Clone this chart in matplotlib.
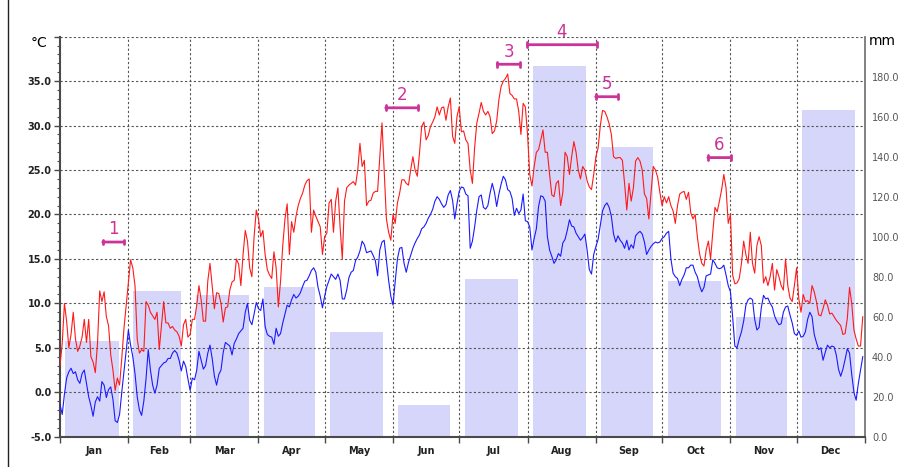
import numpy as np
import matplotlib

matplotlib.use("Agg")
import matplotlib.pyplot as plt
from matplotlib.ticker import FixedLocator, MultipleLocator, FuncFormatter

# ---- data -------------------------------------------------------------------
months = ["Jan", "Feb", "Mar", "Apr", "May", "Jun",
          "Jul", "Aug", "Sep", "Oct", "Nov", "Dec"]
month_days = [31, 28, 31, 30, 31, 30, 31, 31, 30, 31, 30, 31]
precip_mm = [48, 73, 71, 75, 52.5, 15.6, 79, 185.5, 145, 78, 60, 163.5]

tmax = [
    # Jan
    3.0, 5.5, 10.0, 8.0, 5.0, 6.5, 9.0, 6.0, 4.6, 5.2, 6.2, 8.2, 5.6, 8.2, 4.0, 3.4,
    2.2, 5.5, 11.4, 10.2, 11.3, 8.5, 7.5, 4.2, 2.5, 0.2, 1.6, 0.8, 3.8, 7.2, 9.8,
    # Feb
    12.5, 14.9, 14.0, 12.0, 6.0, 4.4, 4.8, 4.6, 10.2, 9.8, 9.0, 8.6, 8.2, 9.0, 4.8,
    7.5, 10.2, 7.8, 7.8, 7.2, 7.4, 7.0, 6.8, 6.3, 5.2, 7.6, 8.2, 6.2,
    # Mar
    6.5, 8.2, 8.2, 9.8, 12.0, 10.4, 8.0, 8.0, 12.5, 14.5, 12.0, 9.4, 11.2, 11.1, 10.0,
    7.9, 9.5, 9.6, 11.5, 12.4, 12.6, 15.0, 14.4, 12.0, 15.5, 18.2, 17.0, 14.0, 13.0,
    17.5, 20.5,
    # Apr
    19.5, 17.5, 18.2, 15.5, 13.8, 13.2, 12.8, 15.8, 14.0, 9.6, 12.5, 16.5, 19.5, 21.2,
    15.5, 19.2, 18.0, 19.8, 21.0, 21.8, 22.4, 23.3, 23.8, 24.0, 18.0, 20.5, 19.8, 19.2,
    18.6, 15.5,
    # May
    17.5, 17.9, 21.3, 21.7, 18.0, 21.5, 23.0, 18.6, 15.0, 21.5, 23.0, 23.3, 23.5, 23.7,
    23.3, 25.0, 28.0, 25.4, 26.1, 21.0, 21.5, 21.6, 22.4, 22.6, 22.6, 26.5, 30.3, 25.0,
    19.5, 18.0, 17.1,
    # Jun
    20.0, 19.0, 21.3, 22.4, 23.9, 23.9, 23.5, 23.3, 25.0, 26.5, 25.0, 24.3, 26.9, 29.9,
    30.4, 28.4, 28.9, 29.9, 30.4, 31.0, 32.1, 31.2, 32.0, 32.1, 30.6, 32.1, 33.1, 28.8,
    28.0, 31.0,
    # Jul
    32.1, 29.3, 29.4, 28.4, 28.0, 25.0, 23.5, 27.5, 30.3, 31.4, 32.6, 31.6, 31.2, 31.6,
    31.0, 29.1, 29.4, 30.5, 32.9, 34.4, 35.0, 35.3, 35.8, 33.6, 33.4, 33.0, 33.0, 31.6,
    29.0, 32.5, 32.1,
    # Aug
    29.0, 24.5, 23.2, 25.4, 27.0, 27.3, 28.4, 29.5, 27.0, 27.0, 24.5, 22.2, 22.0, 23.5,
    23.8, 21.0, 22.5, 27.0, 26.5, 24.5, 26.5, 28.2, 27.0, 25.0, 24.0, 25.4, 25.0, 23.8,
    23.1, 22.8, 24.5,
    # Sep
    26.5, 27.5, 30.0, 31.7, 31.6, 31.0, 30.2, 29.0, 26.5, 26.3, 26.4, 26.4, 26.1, 23.5,
    20.5, 23.5, 21.5, 23.0, 26.0, 26.4, 26.0, 25.0, 22.3, 21.8, 19.5, 22.5, 25.4, 25.0,
    24.2, 22.5,
    # Oct
    21.0, 22.0, 21.3, 22.0, 21.0, 20.4, 19.0, 21.0, 22.3, 22.5, 22.6, 21.7, 22.5, 20.2,
    19.5, 20.0, 17.5, 15.6, 14.5, 14.2, 16.0, 17.0, 15.0, 18.0, 20.8, 20.3, 21.5, 22.8,
    24.5, 23.0, 19.0,
    # Nov
    20.0, 13.2, 12.2, 12.3, 12.8, 14.5, 17.0, 15.5, 14.5, 18.0, 14.5, 13.4, 16.5, 17.5,
    16.5, 12.3, 13.0, 12.0, 13.0, 14.5, 11.5, 13.8, 13.0, 12.0, 11.5, 15.0, 12.0, 10.6,
    10.2, 12.0,
    # Dec
    14.0, 10.5, 9.0, 11.0, 10.2, 10.3, 10.0, 12.0, 11.3, 10.2, 8.7, 8.6, 9.4, 10.4, 9.8,
    8.8, 8.9, 8.5, 8.1, 7.8, 7.5, 6.5, 6.6, 8.3, 11.8, 10.0, 7.0, 6.0, 5.2, 5.2, 8.5,
]

tmin = [
    # Jan
    -1.4, -2.5, -0.2, 1.6, 2.3, 2.7, 2.1, 2.3, 1.4, 1.0, 2.1, 2.5, 1.0, -0.5, -1.5,
    -2.7, -1.1, -0.5, -1.0, 1.2, 0.8, -0.6, 0.3, 0.6, -0.8, -3.2, -3.4, -2.5, 0.0, 2.3,
    4.5,
    # Feb
    7.0, 5.3, 4.0, 2.1, -0.5, -2.0, -2.6, -1.0, 1.5, 4.8, 2.5, 0.8, -0.1, 0.8, 2.7, 3.0,
    3.3, 3.4, 3.8, 3.8, 4.4, 4.7, 4.4, 3.6, 2.4, 3.5, 2.9, 1.5,
    # Mar
    0.2, 1.6, 1.4, 2.5, 4.6, 3.6, 2.6, 3.0, 4.4, 5.3, 3.8, 1.8, 0.8, 2.0, 2.5, 4.5, 5.6,
    5.4, 5.2, 4.2, 5.5, 6.0, 6.6, 6.9, 7.2, 9.0, 10.0, 8.1, 7.6, 8.8, 10.1,
    # Apr
    9.4, 9.2, 10.5, 7.4, 6.5, 6.3, 6.2, 5.4, 7.2, 6.3, 6.6, 7.8, 8.8, 9.8, 9.6, 10.4,
    11.0, 10.6, 10.8, 11.2, 11.9, 12.5, 12.6, 13.1, 13.7, 14.0, 13.5, 11.8, 10.8, 9.5,
    # May
    10.8, 11.9, 12.6, 13.3, 13.0, 12.7, 13.3, 12.6, 10.5, 10.5, 11.5, 12.9, 13.5, 13.7,
    14.8, 15.2, 15.9, 17.0, 16.6, 15.7, 15.8, 15.9, 15.4, 14.8, 13.1, 16.0, 16.9, 17.1,
    14.8, 12.6, 10.8,
    # Jun
    9.8, 12.5, 15.0, 16.2, 16.3, 14.5, 13.5, 14.6, 15.4, 16.2, 16.8, 17.3, 17.7, 18.4,
    18.6, 19.0, 19.6, 20.0, 20.6, 21.5, 22.0, 21.7, 21.2, 20.8, 21.1, 22.2, 22.7, 21.6,
    19.5, 21.2,
    # Jul
    22.6, 23.1, 23.0, 22.3, 22.1, 16.2, 17.0, 18.6, 20.5, 22.0, 22.2, 20.8, 20.6, 21.0,
    22.4, 23.5, 22.5, 20.9, 22.3, 23.4, 24.3, 23.9, 22.8, 22.6, 21.8, 19.9, 20.7, 20.1,
    20.5, 22.3, 19.3,
    # Aug
    19.2, 18.6, 16.0, 17.3, 18.4, 20.9, 22.1, 22.0, 21.5, 17.5, 16.0, 15.3, 14.5, 14.9,
    15.6, 15.3, 16.8, 17.2, 18.2, 19.4, 18.7, 18.6, 17.9, 17.5, 17.1, 17.4, 17.8, 16.0,
    13.8, 13.3, 15.5,
    # Sep
    16.4, 17.2, 18.8, 20.4, 21.0, 21.3, 20.8, 19.8, 17.8, 16.9, 17.6, 17.1, 16.8, 16.2,
    17.1, 16.0, 16.6, 16.2, 17.6, 17.9, 18.1, 17.8, 16.9, 15.5, 16.0, 16.4, 16.7, 16.9,
    16.8, 16.9,
    # Oct
    17.3, 17.5, 17.9, 18.1, 15.0, 13.4, 13.0, 12.8, 12.0, 12.7, 13.2, 14.0, 14.0, 14.3,
    14.3, 13.5, 13.0, 12.0, 11.3, 11.8, 13.1, 13.2, 13.3, 14.9, 14.5, 14.0, 13.9, 14.0,
    14.3, 13.2, 12.0,
    # Nov
    11.3, 8.5, 5.2, 5.0, 6.0, 6.8, 8.0, 9.8, 10.4, 10.6, 10.4, 8.2, 7.0, 7.3, 9.5, 10.9,
    10.5, 10.6, 10.0, 9.6, 8.6, 8.0, 7.6, 7.7, 9.0, 9.6, 9.7, 8.7, 7.8, 6.6,
    # Dec
    6.4, 6.9, 6.2, 6.3, 6.8, 8.2, 9.0, 8.5, 6.5, 5.6, 4.8, 5.0, 3.6, 4.5, 5.3, 5.0, 5.2,
    5.1, 4.2, 2.6, 1.8, 2.6, 3.7, 4.9, 4.4, 2.0, 0.0, -0.9, 1.0, 2.5, 4.0,
]

# marked periods: label, first day, last day (day of year, 0-based), level in degC
period_labels = ["1", "2", "3", "4", "5", "6"]
period_start = [19.4, 147.7, 198.3, 211.9, 242.9, 293.8]
period_end = [29.0, 162.5, 208.6, 243.3, 253.1, 304.3]
period_level = [16.9, 32.0, 36.9, 39.1, 33.25, 26.4]

# ---- style ------------------------------------------------------------------
RED = "#ff1a1a"
BLUE = "#1a1aff"
BAR = "#d6d6fb"
MAGENTA = "#cc3399"
GRID = "#555555"
AXIS = "#4a4a4a"

plt.rcParams.update({
    "font.family": "DejaVu Sans",
    "font.size": 7,
})

days = np.arange(len(tmax))
bounds = np.concatenate([[0], np.cumsum(month_days)])
mid = (bounds[:-1] + bounds[1:]) / 2.0

fig = plt.figure(figsize=(9.08, 4.67), dpi=100)
ax = fig.add_axes([0.0661, 0.0649, 0.8865, 0.8565])
ax2 = ax.twinx()
ax.set_zorder(ax2.get_zorder() + 1)
ax.patch.set_visible(False)

# precipitation bars on the right axis
lens = np.array(month_days, dtype=float)
ax2.bar(bounds[:-1] + 0.08 * lens, precip_mm, width=0.78 * lens, align="edge",
        color=BAR, edgecolor="none", zorder=1)
ax2.set_ylim(0, 200)
ax2.set_yticks(np.arange(0, 181, 20))
ax2.yaxis.set_major_formatter(FuncFormatter(lambda v, p: f"{v:.1f}"))
ax2.tick_params(axis="y", length=0, pad=5, labelsize=7, labelcolor="#555555")
for side in ("top", "left", "bottom"):
    ax2.spines[side].set_visible(False)
ax2.spines["right"].set_color("#777777")
ax2.spines["right"].set_linewidth(1.3)

# temperature lines
ax.plot(days, tmax, color=RED, lw=0.8, zorder=3)
ax.plot(days, tmin, color=BLUE, lw=0.8, zorder=3)

ax.set_xlim(0, 365)
ax.set_ylim(-5, 40)

# grid
for v in np.arange(0, 41, 5):
    ax.axhline(v, color=GRID, lw=0.8, ls=(0, (2, 2)), zorder=2)
for b in bounds[1:-1]:
    ax.axvline(b, color=GRID, lw=0.8, ls=(0, (2, 2)), zorder=2)

# left axis
ax.yaxis.set_major_locator(FixedLocator(np.arange(-5, 41, 5)))
ax.yaxis.set_minor_locator(MultipleLocator(1))
ax.yaxis.set_major_formatter(FuncFormatter(lambda v, p: "" if v > 36 else f"{v:.1f}"))
ax.tick_params(axis="y", which="major", length=4, width=1, color=AXIS,
               labelsize=7, pad=2)
ax.tick_params(axis="y", which="minor", length=2, width=0.8, color=AXIS)
for lab in ax.get_yticklabels():
    lab.set_fontweight("bold")
    lab.set_color("#222222")

# bottom axis: month boundaries as ticks, names centred
ax.set_xticks(bounds)
ax.set_xticklabels([])
ax.set_xticks(mid, minor=True)
ax.set_xticklabels(months, minor=True, fontweight="bold", fontsize=7,
                   color="#222222")
ax.tick_params(axis="x", which="major", length=4, width=1, color=AXIS)
ax.tick_params(axis="x", which="minor", length=0, pad=7)

for side in ("top", "right"):
    ax.spines[side].set_visible(False)
for side in ("left", "bottom"):
    ax.spines[side].set_color(AXIS)
    ax.spines[side].set_linewidth(1.5)

fig.text(0.034, 0.908, "°C", fontsize=10, ha="left", va="center")
fig.text(0.957, 0.912, "mm", fontsize=10, ha="left", va="center")

# marked periods
for lab, s, e, lvl in zip(period_labels, period_start, period_end, period_level):
    ax.annotate("", xy=(s, lvl), xytext=(e, lvl),
                arrowprops=dict(arrowstyle="|-|, widthA=0.25, widthB=0.25",
                                color=MAGENTA, lw=2, shrinkA=0, shrinkB=0),
                zorder=5, annotation_clip=False)
    ax.text((s + e) / 2, lvl + 0.4, lab, color=MAGENTA, fontsize=12,
            ha="center", va="bottom", zorder=5, clip_on=False)

# outer frame line on the left
fig.add_artist(plt.Line2D([0.009, 0.009], [0.0, 1.0], color="#222222", lw=1,
                          transform=fig.transFigure))

fig.savefig("out.png", dpi=100)
